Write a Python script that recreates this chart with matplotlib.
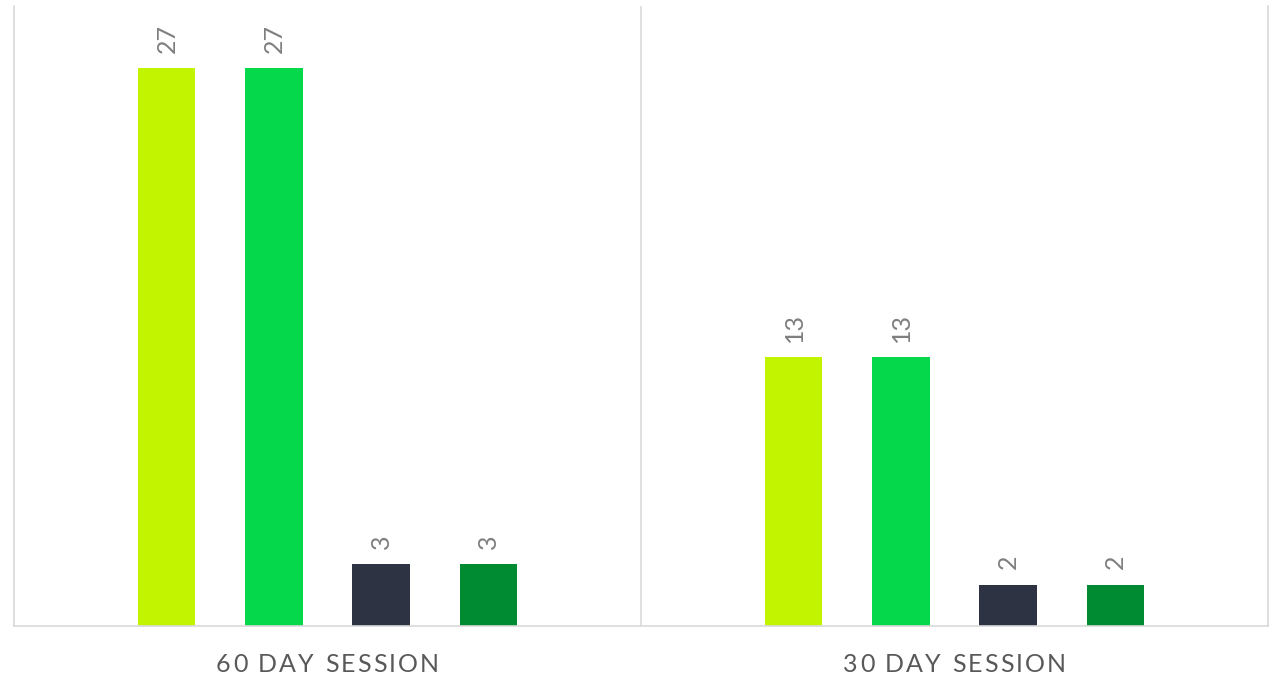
import matplotlib.pyplot as plt
import numpy as np

categories = ['60 DAY SESSION', '30 DAY SESSION']
series_a = [27, 13]
series_b = [27, 13]
series_c = [3, 2]
series_d = [3, 2]
colors = ['#C2F400', '#05D84A', '#2E3344', '#008A32']

fig = plt.figure(figsize=(12.81, 6.77), dpi=100)
ax = fig.add_axes([14 / 1281, 51 / 677, 1254 / 1281, 620 / 677])

x = np.arange(len(categories))
step = 0.1707
width = 0.091
all_series = [series_a, series_b, series_c, series_d]
for i, vals in enumerate(all_series):
    pos = x + (i - 1.5) * step
    bars = ax.bar(pos, vals, width=width, color=colors[i])
    for b, v in zip(bars, vals):
        ax.annotate(str(v), (b.get_x() + b.get_width() / 2, b.get_height()),
                    xytext=(0, 11), textcoords='offset points',
                    rotation=90, ha='center', va='bottom',
                    fontsize=18, color='#7F7F7F', family='Lato')

ax.set_xlim(-0.5, len(categories) - 0.5)
ax.set_ylim(0, 30)
ax.set_yticks([])
ax.set_xticks([])
for s in ['left', 'right', 'bottom']:
    ax.spines[s].set_color('#D9D9D9')
    ax.spines[s].set_linewidth(1.2)
ax.spines['top'].set_visible(False)
for k in range(1, len(categories)):
    ax.axvline(k - 0.5, color='#D9D9D9', lw=1.2)

# category labels with letter spacing
fig.canvas.draw()
renderer = fig.canvas.get_renderer()
fs = 18
spacing = 2.2  # pixels between letters
for xi, cat in zip(x, categories):
    pieces = []
    total = 0
    for ch in cat:
        if ch == ' ':
            t2 = ax.text(0, 0, 'a a', fontsize=fs, family='Lato')
            t3 = ax.text(0, 0, 'aa', fontsize=fs, family='Lato')
            w = t2.get_window_extent(renderer).width - t3.get_window_extent(renderer).width
            t2.remove()
            t3.remove()
        else:
            t = ax.text(0, 0, ch, fontsize=fs, family='Lato')
            w = t.get_window_extent(renderer).width
            t.remove()
        pieces.append((ch, w))
        total += w + spacing
    total -= spacing
    cx = ax.transData.transform((xi, 0))[0]
    start = cx - total / 2
    for ch, w in pieces:
        px, py = fig.transFigure.inverted().transform((start, 677 - 665))
        if ch != ' ':
            fig.text(px, py, ch, fontsize=fs, family='Lato',
                     color='#595959', ha='left', va='center')
        start += w + spacing

fig.savefig('out.png', dpi=100)
